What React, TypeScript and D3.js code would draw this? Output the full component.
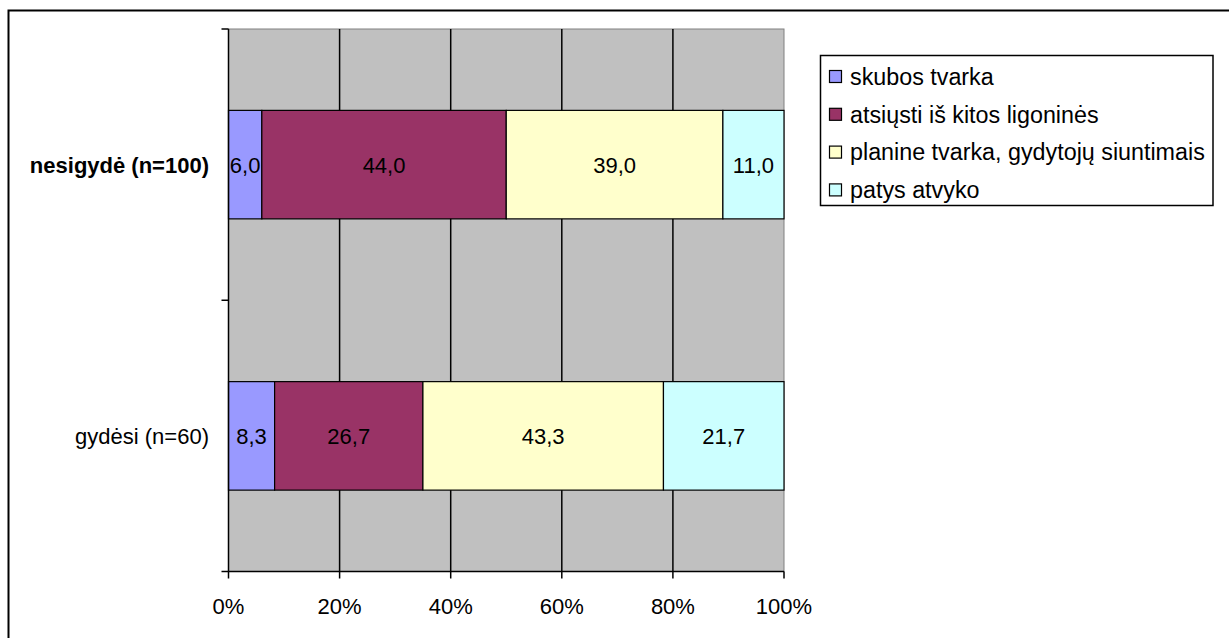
import React from "react";
import * as d3 from "d3";

const categories = ["nesigydė (n=100)", "gydėsi (n=60)"];
const categoryBold = [true, false];
const seriesNames = [
  "skubos tvarka",
  "atsiųsti iš kitos ligoninės",
  "planine tvarka, gydytojų siuntimais",
  "patys atvyko",
];
const seriesColors = ["#9999FF", "#993366", "#FFFFCC", "#CCFFFF"];
const valuesNesigyde = [6.0, 44.0, 39.0, 11.0];
const valuesGydesi = [8.3, 26.7, 43.3, 21.7];
const xTicks = [0, 20, 40, 60, 80, 100];

const FONT = "'Liberation Sans', Arial, sans-serif";
const FS = 22;
const LEG_FS = 23.3;

export default function App() {
  const W = 1229;
  const H = 638;
  const left = 228.5;
  const right = 784;
  const top = 29;
  const bottom = 571.5;

  const x = d3.scaleLinear().domain([0, 100]).range([left, right]);
  const y = d3
    .scaleBand<string>()
    .domain(categories)
    .range([top, bottom])
    .paddingInner(0)
    .paddingOuter(0);
  const bw = y.bandwidth() / 2.5;

  const data = [valuesNesigyde, valuesGydesi];
  const stacks = data.map((vals) => {
    let acc = 0;
    return vals.map((v) => {
      const s = { x0: acc, x1: acc + v, v };
      acc += v;
      return s;
    });
  });

  const yTicks = [top, (top + bottom) / 2, bottom];
  const fmt = (v: number) => v.toFixed(1).replace(".", ",");

  const legX = 820.5;
  const legY = 55.5;
  const legRow = 37.8;

  return (
    <svg
      width={W}
      height={H}
      style={{ position: "absolute", left: 0, top: 0 }}
      fontFamily={FONT}
    >
      <rect x={0} y={0} width={W} height={H} fill="#fff" />
      <rect x={8.5} y={10.5} width={1250} height={650} fill="#fff" stroke="#000" strokeWidth={2} />

      {/* plot area */}
      <rect x={left} y={top} width={right - left} height={bottom - top} fill="#C0C0C0" stroke="#808080" strokeWidth={1} />

      {/* gridlines */}
      {xTicks.slice(1, -1).map((t) => (
        <line key={"g" + t} x1={x(t)} x2={x(t)} y1={top} y2={bottom} stroke="#000" strokeWidth={1.5} />
      ))}

      {/* bars */}
      {categories.map((c, ci) => {
        const cy = (y(c) as number) + y.bandwidth() / 2;
        return (
          <g key={c}>
            {stacks[ci].map((s, si) => (
              <rect
                key={si}
                x={x(s.x0)}
                y={cy - bw / 2}
                width={x(s.x1) - x(s.x0)}
                height={bw}
                fill={seriesColors[si]}
                stroke="#000"
                strokeWidth={1.2}
              />
            ))}
            {stacks[ci].map((s, si) => (
              <text
                key={"t" + si}
                x={(x(s.x0) + x(s.x1)) / 2}
                y={cy}
                dy="0.36em"
                textAnchor="middle"
                fontSize={FS}
                fill="#000"
              >
                {fmt(s.v)}
              </text>
            ))}
            <text
              x={209}
              y={cy}
              dy="0.36em"
              textAnchor="end"
              fontSize={FS}
              fontWeight={categoryBold[ci] ? "bold" : "normal"}
              fill="#000"
            >
              {c}
            </text>
          </g>
        );
      })}

      {/* y axis */}
      <line x1={left} x2={left} y1={top} y2={bottom} stroke="#000" strokeWidth={1.5} />
      {yTicks.map((t, i) => (
        <line key={"yt" + i} x1={left - 7} x2={left} y1={t} y2={t} stroke="#000" strokeWidth={1.5} />
      ))}

      {/* x axis */}
      <line x1={left} x2={right} y1={bottom} y2={bottom} stroke="#000" strokeWidth={1.5} />
      {xTicks.map((t) => (
        <g key={"xt" + t}>
          <line x1={x(t)} x2={x(t)} y1={bottom} y2={bottom + 7} stroke="#000" strokeWidth={1.5} />
          <text x={x(t)} y={606} dy="0.36em" textAnchor="middle" fontSize={FS} fill="#000">
            {t + "%"}
          </text>
        </g>
      ))}

      {/* legend */}
      <rect x={legX} y={legY} width={1213 - legX} height={205.5 - legY} fill="#fff" stroke="#000" strokeWidth={1.5} />
      {seriesNames.map((n, i) => {
        const cy = 76.5 + i * legRow;
        return (
          <g key={n}>
            <rect x={829.5} y={cy - 6} width={12} height={12} fill={seriesColors[i]} stroke="#000" strokeWidth={1.2} />
            <text x={850} y={cy} dy="0.36em" fontSize={LEG_FS} fill="#000">
              {n}
            </text>
          </g>
        );
      })}
    </svg>
  );
}
